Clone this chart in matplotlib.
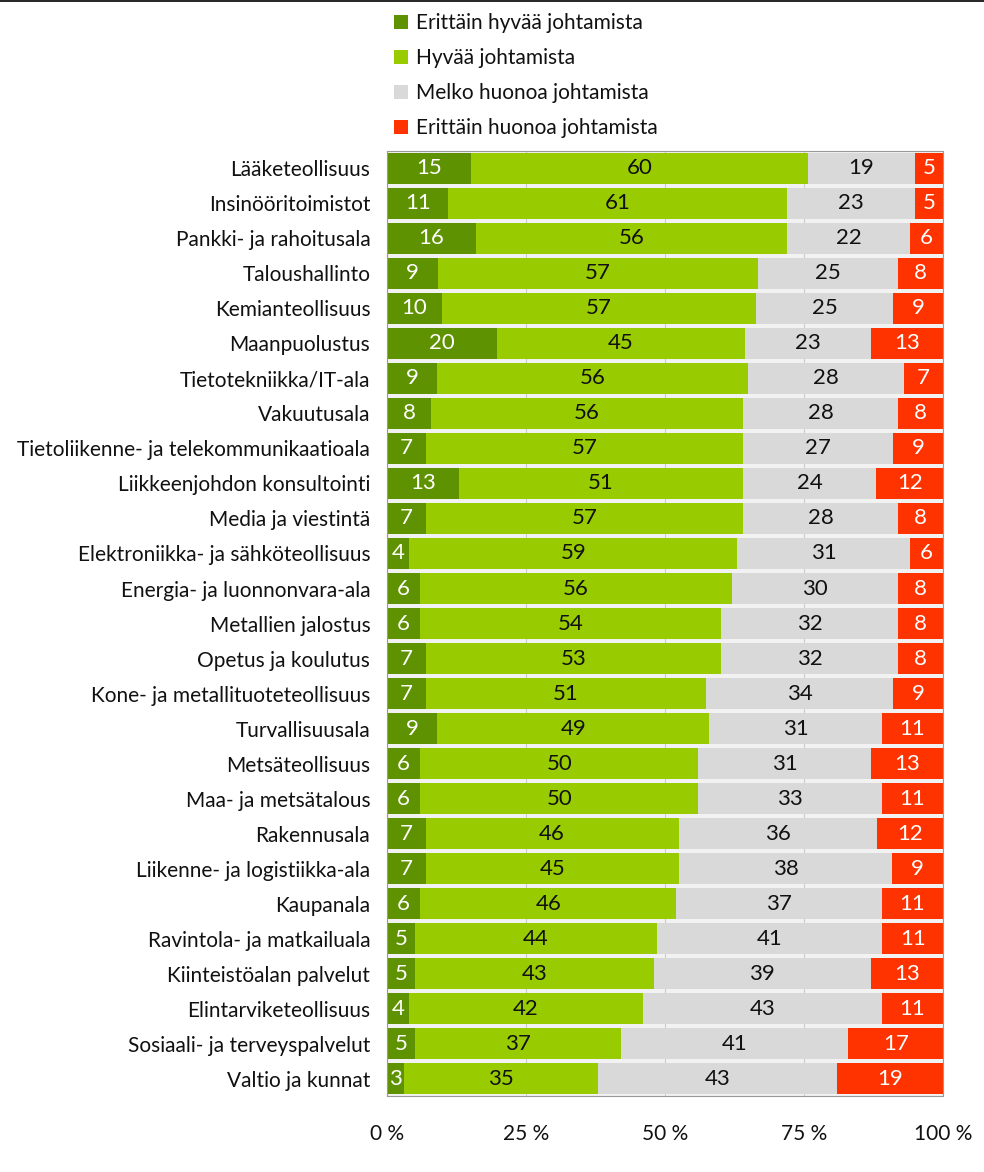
import matplotlib
matplotlib.use("Agg")
import matplotlib.pyplot as plt
import numpy as np
from matplotlib.lines import Line2D
from matplotlib.patches import Patch

plt.rcParams["font.family"] = ["Lato", "DejaVu Sans"]

# ---------------------------------------------------------------------------
# Data
# ---------------------------------------------------------------------------
categories = [
    "Lääketeollisuus", "Insinööritoimistot", "Pankki- ja rahoitusala",
    "Taloushallinto", "Kemianteollisuus", "Maanpuolustus",
    "Tietotekniikka/IT-ala", "Vakuutusala",
    "Tietoliikenne- ja telekommunikaatioala", "Liikkeenjohdon konsultointi",
    "Media ja viestintä", "Elektroniikka- ja sähköteollisuus",
    "Energia- ja luonnonvara-ala", "Metallien jalostus", "Opetus ja koulutus",
    "Kone- ja metallituoteteollisuus", "Turvallisuusala", "Metsäteollisuus",
    "Maa- ja metsätalous", "Rakennusala", "Liikenne- ja logistiikka-ala",
    "Kaupanala", "Ravintola- ja matkailuala", "Kiinteistöalan palvelut",
    "Elintarviketeollisuus", "Sosiaali- ja terveyspalvelut", "Valtio ja kunnat",
]
erittain_hyvaa = [15, 11, 16, 9, 10, 20, 9, 8, 7, 13, 7, 4, 6, 6, 7, 7, 9, 6, 6, 7, 7, 6, 5, 5, 4, 5, 3]
hyvaa          = [60, 61, 56, 57, 57, 45, 56, 56, 57, 51, 57, 59, 56, 54, 53, 51, 49, 50, 50, 46, 45, 46, 44, 43, 42, 37, 35]
melko_huonoa   = [19, 23, 22, 25, 25, 23, 28, 28, 27, 24, 28, 31, 30, 32, 32, 34, 31, 31, 33, 36, 38, 37, 41, 39, 43, 41, 43]
erittain_huonoa = [5, 5, 6, 8, 9, 13, 7, 8, 9, 12, 8, 6, 8, 8, 8, 9, 11, 13, 11, 12, 9, 11, 11, 13, 11, 17, 19]

series_labels = ["Erittäin hyvää johtamista", "Hyvää johtamista",
                 "Melko huonoa johtamista", "Erittäin huonoa johtamista"]
series_colors = ["#5f9200", "#99cc00", "#d9d9d9", "#ff3300"]
text_colors   = ["white", "#111111", "#111111", "white"]

xticks      = [0, 25, 50, 75, 100]
xticklabels = ["0 %", "25 %", "50 %", "75 %", "100 %"]

# ---------------------------------------------------------------------------
# Plot
# ---------------------------------------------------------------------------
values = np.array([erittain_hyvaa, hyvaa, melko_huonoa, erittain_huonoa], dtype=float)
shares = values / values.sum(axis=0) * 100   # 100 % stacked

fig = plt.figure(figsize=(9.84, 11.72), dpi=100)
ax = fig.add_axes([0.3933, 0.0648, 0.565, 0.8064])

y = np.arange(len(categories))
left = np.zeros(len(categories))
for i in range(4):
    ax.barh(y, shares[i], left=left, height=0.9, color=series_colors[i],
            edgecolor="none", zorder=2)
    for yi, (l, w, v) in enumerate(zip(left, shares[i], values[i])):
        ax.text(l + w / 2, yi, f"{int(v)}", ha="center", va="center",
                fontsize=16, color=text_colors[i], zorder=3)
    left += shares[i]

ax.set_xlim(0, 100)
ax.set_ylim(len(categories) - 0.5, -0.5)
ax.set_yticks(y)
ax.set_yticklabels(categories, fontsize=15, color="#111111")
ax.set_xticks(xticks)
ax.set_xticklabels(xticklabels, fontsize=15, color="#111111")
ax.tick_params(axis="both", length=0)
ax.tick_params(axis="x", pad=20)
ax.tick_params(axis="y", pad=12)
ax.set_facecolor("#f2f2f2")
ax.grid(axis="x", color="#cccccc", linewidth=0.8, zorder=0)
ax.set_axisbelow(True)
for s in ax.spines.values():
    s.set_linestyle((0, (2, 1)))
    s.set_color("#999999")
    s.set_linewidth(0.8)

handles = [Patch(facecolor=c, edgecolor="none") for c in series_colors]
fig.legend(handles, series_labels, loc="upper left", bbox_to_anchor=(0.392, 0.996),
           frameon=False, fontsize=15, handlelength=0.65, handleheight=0.65,
           handletextpad=0.4, labelspacing=0.72, borderaxespad=0, labelcolor="#111111")

# thin black rule at top of the figure
fig.add_artist(Line2D([0, 1], [0.9992, 0.9992], color="black", linewidth=1.2,
                      transform=fig.transFigure))

fig.savefig("out.png", dpi=100)
